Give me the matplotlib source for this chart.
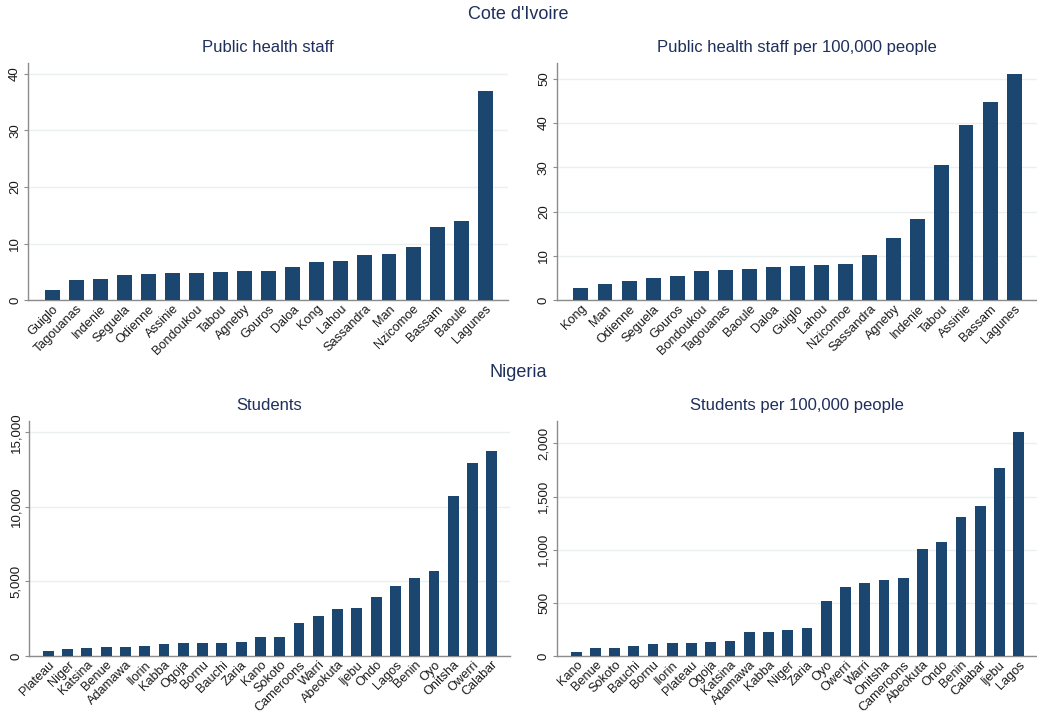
import matplotlib
matplotlib.use("Agg")
import matplotlib.pyplot as plt
from matplotlib.ticker import FuncFormatter

# Cote d'Ivoire: public health staff by cercle
ci_staff_names = ["Guiglo", "Tagouanas", "Indenie", "Seguela", "Odienne", "Assinie",
                  "Bondoukou", "Tabou", "Agneby", "Gouros", "Daloa", "Kong", "Lahou",
                  "Sassandra", "Man", "Nzicomoe", "Bassam", "Baoule", "Lagunes"]
ci_staff = [1.8, 3.5, 3.8, 4.5, 4.6, 4.8, 4.8, 5.0, 5.1, 5.2, 5.8, 6.8, 6.9,
            8.0, 8.1, 9.4, 12.9, 14.0, 36.9]

ci_rate_names = ["Kong", "Man", "Odienne", "Seguela", "Gouros", "Bondoukou", "Tagouanas",
                 "Baoule", "Daloa", "Guiglo", "Lahou", "Nzicomoe", "Sassandra", "Agneby",
                 "Indenie", "Tabou", "Assinie", "Bassam", "Lagunes"]
ci_rate = [2.8, 3.6, 4.3, 5.1, 5.5, 6.6, 6.8, 7.0, 7.5, 7.7, 8.0, 8.2, 10.1, 14.1,
           18.3, 30.6, 39.6, 44.7, 51.1]

# Nigeria: students by province
ng_students_names = ["Plateau", "Niger", "Katsina", "Benue", "Adamawa", "Ilorin", "Kabba",
                     "Ogoja", "Bornu", "Bauchi", "Zaria", "Kano", "Sokoto", "Cameroons",
                     "Warri", "Abeokuta", "Ijebu", "Ondo", "Lagos", "Benin", "Oyo",
                     "Onitsha", "Owerri", "Calabar"]
ng_students = [360, 470, 515, 580, 585, 690, 805, 850, 895, 900, 960, 1250, 1300, 2240,
               2690, 3180, 3185, 3985, 4700, 5215, 5690, 10745, 12960, 13770]

ng_rate_names = ["Kano", "Benue", "Sokoto", "Bauchi", "Bornu", "Ilorin", "Plateau", "Ogoja",
                 "Katsina", "Adamawa", "Kabba", "Niger", "Zaria", "Oyo", "Owerri", "Warri",
                 "Onitsha", "Cameroons", "Abeokuta", "Ondo", "Benin", "Calabar", "Ijebu",
                 "Lagos"]
ng_rate = [35, 72, 73, 91, 110, 122, 123, 132, 138, 223, 226, 245, 261, 521, 653, 684,
           716, 738, 1002, 1074, 1303, 1407, 1768, 2107]

bar_color = "#1a4670"
title_color = "#1f2f5c"
spine_color = "#8c8c8c"
grid_color = "#eaf0f0"
label_color = "#1a1a1a"

plt.rcParams["font.family"] = ["Liberation Sans", "DejaVu Sans"]

fig = plt.figure(figsize=(10.37, 7.13), dpi=100)
fig.patch.set_facecolor("white")

panels = [
    ([0.027, 0.579, 0.463, 0.333], ci_staff_names, ci_staff, "Public health staff",
     41.9, [0, 10, 20, 30, 40], 0.62, False),
    ([0.537, 0.579, 0.463, 0.333], ci_rate_names, ci_rate, "Public health staff per 100,000 people",
     53.6, [0, 10, 20, 30, 40, 50], 0.62, False),
    ([0.028, 0.080, 0.464, 0.330], ng_students_names, ng_students, "Students",
     15785, [0, 5000, 10000, 15000], 0.56, True),
    ([0.537, 0.080, 0.463, 0.330], ng_rate_names, ng_rate, "Students per 100,000 people",
     2214, [0, 500, 1000, 1500, 2000], 0.56, True),
]

for rect, names, vals, title, ytop, yticks, width, commas in panels:
    ax = fig.add_axes(rect)
    x = range(len(vals))
    ax.bar(x, vals, width=width, color=bar_color, zorder=3)
    ax.set_xlim(-1.0, len(vals) - 0.05)
    ax.set_ylim(0, ytop)
    ax.set_yticks(yticks)
    if commas:
        ax.yaxis.set_major_formatter(FuncFormatter(lambda v, p: f"{int(v):,}"))
    ax.grid(axis="y", color=grid_color, linewidth=1.0, zorder=0)
    ax.set_xticks(list(x))
    ax.set_xticklabels(names, rotation=45, ha="right", rotation_mode="anchor",
                       fontsize=9.2, color=label_color)
    ax.tick_params(axis="x", length=0, pad=2)
    ax.tick_params(axis="y", length=3, width=0.8, color=spine_color, labelsize=9.5,
                   labelcolor=label_color, pad=2)
    for lbl in ax.get_yticklabels():
        lbl.set_rotation(90)
        lbl.set_va("center")
    for side in ("top", "right"):
        ax.spines[side].set_visible(False)
    for side in ("left", "bottom"):
        ax.spines[side].set_color(spine_color)
        ax.spines[side].set_linewidth(1.0)
    ax.set_title(title, fontsize=12, color=title_color, pad=8)

fig.text(0.5, 0.979, "Cote d'Ivoire", ha="center", va="center", fontsize=13, color=title_color)
fig.text(0.5, 0.477, "Nigeria", ha="center", va="center", fontsize=13, color=title_color)

fig.savefig("out.png", dpi=100, facecolor="white")
